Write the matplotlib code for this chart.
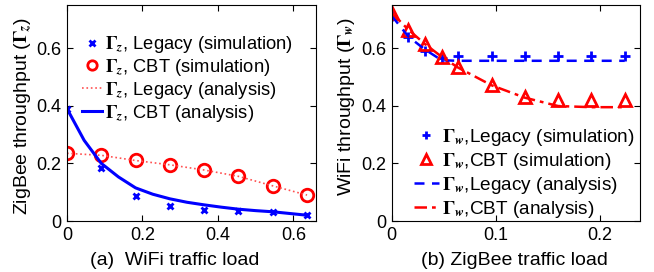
import matplotlib
matplotlib.use("Agg")
import matplotlib.pyplot as plt

plt.rcParams['font.family'] = ['Liberation Sans', 'DejaVu Sans']
plt.rcParams['mathtext.fontset'] = 'stix'

# Left panel (a): ZigBee throughput vs WiFi traffic load
wifi_load = [0, 0.0909, 0.1818, 0.2727, 0.3636, 0.4545, 0.5455, 0.6364]
z_legacy_sim = [0.39, 0.185, 0.088, 0.052, 0.038, 0.035, 0.030, 0.020]
z_cbt_sim = [0.235, 0.228, 0.210, 0.195, 0.177, 0.155, 0.122, 0.090]
z_legacy_ana = [0.235, 0.228, 0.210, 0.195, 0.177, 0.155, 0.122, 0.090]
wifi_load_fine = [0, 0.0455, 0.0909, 0.1364, 0.1818, 0.2273, 0.2727, 0.3182,
                  0.3636, 0.4091, 0.4545, 0.5, 0.5455, 0.5909, 0.6364]
z_cbt_ana = [0.39, 0.28, 0.20, 0.153, 0.115, 0.093, 0.077, 0.065,
             0.056, 0.048, 0.041, 0.036, 0.032, 0.026, 0.020]

# Right panel (b): WiFi throughput vs ZigBee traffic load
zig_load = [0, 0.016, 0.032, 0.048, 0.064, 0.096, 0.128, 0.160, 0.192, 0.224]
w_legacy_sim = [0.712, 0.637, 0.590, 0.567, 0.572, 0.572, 0.572, 0.572, 0.572, 0.572]
w_cbt_sim = [0.722, 0.664, 0.614, 0.570, 0.535, 0.471, 0.431, 0.419, 0.420, 0.421]
w_legacy_ana = [0.712, 0.640, 0.595, 0.558, 0.556, 0.556, 0.556, 0.556, 0.556, 0.556]
w_cbt_ana = [0.722, 0.664, 0.614, 0.570, 0.532, 0.471, 0.428, 0.399, 0.395, 0.395]

fig = plt.figure(figsize=(6.54, 2.72), dpi=100)
ax1 = fig.add_axes([0.1024, 0.1875, 0.3807, 0.7945])
ax2 = fig.add_axes([0.599, 0.1875, 0.380, 0.7945])

Gz = r'$\mathbf{\Gamma}_{\mathbfit{z}}$'
Gw = r'$\mathbf{\Gamma}_{\mathbfit{w}}$'

ax1.plot(wifi_load, z_legacy_sim, linestyle='none', marker='x', color='blue',
         markersize=5, mew=2, label=Gz + ', Legacy (simulation)')
ax1.plot(wifi_load, z_cbt_sim, linestyle='none', marker='o', color='red',
         markersize=9, mew=2, mfc='none', label=Gz + ', CBT (simulation)')
ax1.plot(wifi_load, z_legacy_ana, linestyle=':', color='#ff5050', lw=1.2,
         label=Gz + ', Legacy (analysis)')
ax1.plot(wifi_load_fine, z_cbt_ana, linestyle='-', color='blue', lw=2.2,
         label=Gz + ', CBT (analysis)')

ax1.set_xlim(0, 0.66)
ax1.set_ylim(0, 0.75)
ax1.set_xticks([0, 0.2, 0.4, 0.6])
ax1.set_xticklabels(['0', '0.2', '0.4', '0.6'])
ax1.set_yticks([0, 0.2, 0.4, 0.6])
ax1.set_yticklabels(['0', '0.2', '0.4', '0.6'])
ax1.set_ylabel('ZigBee throughput (' + Gz + ')', fontsize=14)
ax1.yaxis.set_label_coords(-0.1325, 0.486)
ax1.set_xlabel('(a)  WiFi traffic load', fontsize=14)
ax1.xaxis.set_label_coords(0.432, -0.1435)
ax1.legend(loc='upper left', bbox_to_anchor=(0.06, 0.865), frameon=False,
           fontsize=13.2, handlelength=1.1, handletextpad=0.15,
           labelspacing=0.1, borderpad=0, borderaxespad=0, numpoints=1,
           markerscale=0.75)

ax2.plot(zig_load, w_legacy_sim, linestyle='none', marker='+', color='blue',
         markersize=7, mew=2, label=Gw + ',Legacy (simulation)')
ax2.plot(zig_load, w_cbt_sim, linestyle='none', marker='^', color='red',
         markersize=8, mew=2, mfc='none', label=Gw + ',CBT (simulation)')
ax2.plot(zig_load, w_legacy_ana, linestyle=(0, (4, 3)), color='blue', lw=1.8,
         label=Gw + ',Legacy (analysis)')
ax2.plot(zig_load, w_cbt_ana, linestyle=(0, (5, 2, 1.5, 2)), color='red', lw=1.8,
         label=Gw + ',CBT (analysis)')

ax2.set_xlim(0, 0.239)
ax2.set_ylim(0, 0.75)
ax2.set_xticks([0, 0.1, 0.2])
ax2.set_xticklabels(['0', '0.1', '0.2'])
ax2.set_yticks([0, 0.2, 0.4, 0.6])
ax2.set_yticklabels(['0', '0.2', '0.4', '0.6'])
ax2.set_ylabel('WiFi throughput (' + Gw + ')', fontsize=14)
ax2.yaxis.set_label_coords(-0.14, 0.532)
ax2.set_xlabel('(b) ZigBee traffic load', fontsize=14)
ax2.xaxis.set_label_coords(0.495, -0.1435)
ax2.legend(loc='upper left', bbox_to_anchor=(0.09, 0.435), frameon=False,
           fontsize=13.7, handlelength=1.3, handletextpad=0.15,
           labelspacing=0.15, borderpad=0, borderaxespad=0, numpoints=1,
           markerscale=0.85)

for ax in (ax1, ax2):
    ax.tick_params(direction='in', top=True, right=True, labelsize=13,
                   length=4, width=0.8, pad=4)
    for s in ax.spines.values():
        s.set_linewidth(0.8)

fig.savefig('out.png', dpi=100)
